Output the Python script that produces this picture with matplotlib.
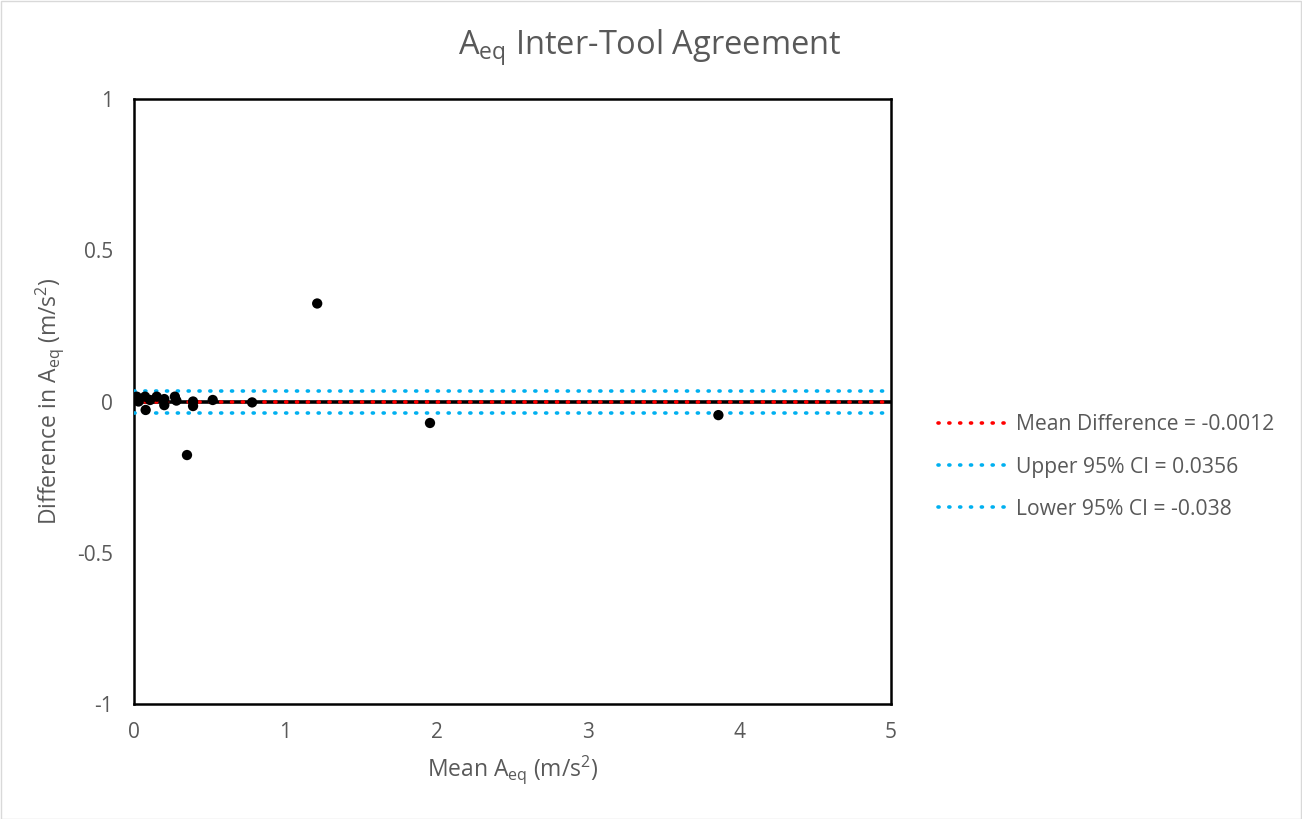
import matplotlib
matplotlib.use("Agg")
import matplotlib.pyplot as plt
from matplotlib.lines import Line2D
from matplotlib.patches import Rectangle

plt.rcParams['font.family'] = ['Open Sans', 'DejaVu Sans']
plt.rcParams['mathtext.fontset'] = 'custom'
plt.rcParams['mathtext.rm'] = 'Open Sans'
plt.rcParams['mathtext.it'] = 'Open Sans'

# Data (mean vs difference)
mean_aeq = [0.018, 0.03, 0.073, 0.077, 0.106, 0.15, 0.2, 0.2, 0.27, 0.28,
            0.35, 0.39, 0.39, 0.52, 0.78, 1.21, 1.955, 3.86]
diff_aeq = [0.016, 0.0, 0.016, -0.028, 0.005, 0.016, 0.008, -0.012, 0.016, 0.003,
            -0.177, 0.0, -0.015, 0.005, -0.003, 0.324, -0.071, -0.045]

mean_diff = -0.0012
upper_ci = 0.0356
lower_ci = -0.038

legend_labels = ["Mean Difference = -0.0012", "Upper 95% CI = 0.0356", "Lower 95% CI = -0.038"]

W, H = 1302, 819
fig = plt.figure(figsize=(W / 100, H / 100), dpi=100)
ax = fig.add_axes([134 / W, 1 - 704 / H, (891 - 134) / W, (704 - 99) / H])

txt = '#595959'
red = '#FF0000'
blue = '#00B0F0'
dotted = (0, (0.3, 2.7))

ax.set_xlim(0, 5)
ax.set_ylim(-1, 1)

# horizontal axis line at y=0
ax.axhline(0, color='black', lw=2.6, zorder=2)

ax.axhline(mean_diff, color=red, lw=2.6, linestyle=dotted, dash_capstyle='round', zorder=3)
ax.axhline(upper_ci, color=blue, lw=2.6, linestyle=dotted, dash_capstyle='round', zorder=3)
ax.axhline(lower_ci, color=blue, lw=2.6, linestyle=dotted, dash_capstyle='round', zorder=3)

ax.scatter(mean_aeq, diff_aeq, s=55, color='black', zorder=4, edgecolors='none')

for s in ax.spines.values():
    s.set_color('black')
    s.set_linewidth(1.8)

ax.set_xticks([0, 1, 2, 3, 4, 5])
ax.set_xticklabels(['0', '1', '2', '3', '4', '5'])
ax.set_yticks([-1, -0.5, 0, 0.5, 1])
ax.set_yticklabels(['-1', '-0.5', '0', '0.5', '1'])
ax.tick_params(length=0, labelsize=15, labelcolor=txt)
ax.tick_params(axis='x', pad=13)
ax.tick_params(axis='y', pad=15)

ax.set_xlabel(r'Mean A$_{\mathregular{eq}}$ (m/s$^{\mathregular{2}}$)', fontsize=16.5, color=txt, labelpad=7)
ax.set_ylabel(r'Difference in A$_{\mathregular{eq}}$ (m/s$^{\mathregular{2}}$)', fontsize=16.5, color=txt, labelpad=8)
fig.text(650 / W, 1 - 48 / H, r'A$_{\mathregular{eq}}$ Inter-Tool Agreement',
         fontsize=23.5, color=txt, ha='center', va='center')

handles = [Line2D([0], [0], color=red, lw=2.6, linestyle=dotted, dash_capstyle='round'),
           Line2D([0], [0], color=blue, lw=2.6, linestyle=dotted, dash_capstyle='round'),
           Line2D([0], [0], color=blue, lw=2.6, linestyle=dotted, dash_capstyle='round')]
leg = ax.legend(handles, legend_labels, loc='center left', bbox_to_anchor=(919 / W, 1 - 467 / H),
                bbox_transform=fig.transFigure, frameon=False, fontsize=15.2,
                handlelength=3.4, handletextpad=0.3, labelspacing=1.0, labelcolor=txt)

# chart border
fig.patches.append(Rectangle((0.5 / W, 0.5 / H), 1 - 1.5 / W, 1 - 1.5 / H, transform=fig.transFigure,
                             fill=False, edgecolor='#D9D9D9', lw=1))

fig.savefig('out.png', dpi=100)
